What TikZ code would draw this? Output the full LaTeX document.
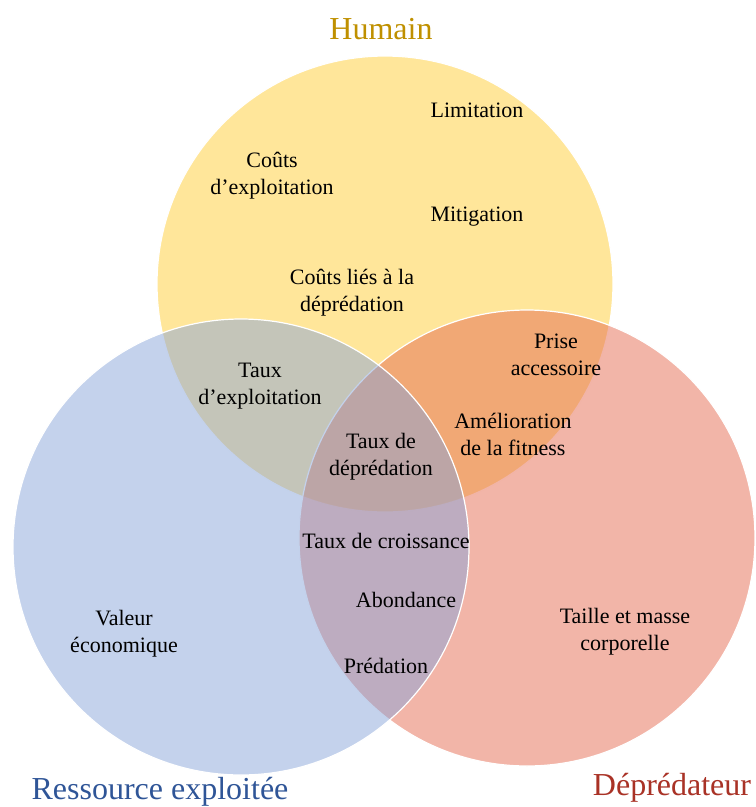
\documentclass[tikz,border=0pt]{standalone}
\usepackage{fontspec}
\setmainfont{Liberation Serif}
\usetikzlibrary{positioning}
\definecolor{humfill}{HTML}{FFCD36}
\definecolor{resfill}{HTML}{89A5D9}
\definecolor{depfill}{HTML}{E56B51}
\definecolor{humtext}{HTML}{BF9000}
\definecolor{restext}{HTML}{2F5597}
\definecolor{deptext}{HTML}{A93226}

\begin{document}
\begin{tikzpicture}[
  x=1pt,y=-1pt,
  set/.style={circle,draw=white,line width=1.2pt,fill opacity=0.5,minimum size=456pt,inner sep=0pt},
  lab/.style={align=center,font=\fontsize{22}{27}\selectfont,inner sep=0pt},
  title/.style={font=\fontsize{32}{38}\selectfont,inner sep=0pt}
]
\useasboundingbox (0,0) rectangle (756,807);
\node[set,fill=humfill] (hum) at (385,284) {};
\node[set,fill=depfill] (dep) at (527,538) {};
\node[set,fill=resfill] (res) at (241,547) {};
\node[title,text=humtext] (humt) at (381,29) {Humain};
\node[title,text=restext] (rest) at (160,792) {Ressource exploitée};
\node[title,text=deptext] (dept) at (672,788) {Déprédateur};
\node[lab] (limit) at (477,110) {Limitation};
\node[lab] (couts) at (272,176) {Coûts\\d’exploitation};
\node[lab] (mitig) at (477,217) {Mitigation};
\node[lab] (coutsdep) at (352,293) {Coûts liés à la\\déprédation};
\node[lab] (tauxexp) at (260,386) {Taux\\d’exploitation};
\node[lab] (prise) at (556,355) {Prise\\accessoire};
\node[lab] (amelio) at (513,434) {Amélioration\\de la fitness};
\node[lab] (tauxdep) at (381,457) {Taux de\\déprédation};
\node[lab] (croiss) at (386,541) {Taux de croissance};
\node[lab] (abond) at (406,600) {Abondance};
\node[lab] (preda) at (386,666) {Prédation};
\node[lab] (valeur) at (124,634) {Valeur\\économique};
\node[lab] (taille) at (625,632) {Taille et masse\\corporelle};
\end{tikzpicture}
\end{document}
